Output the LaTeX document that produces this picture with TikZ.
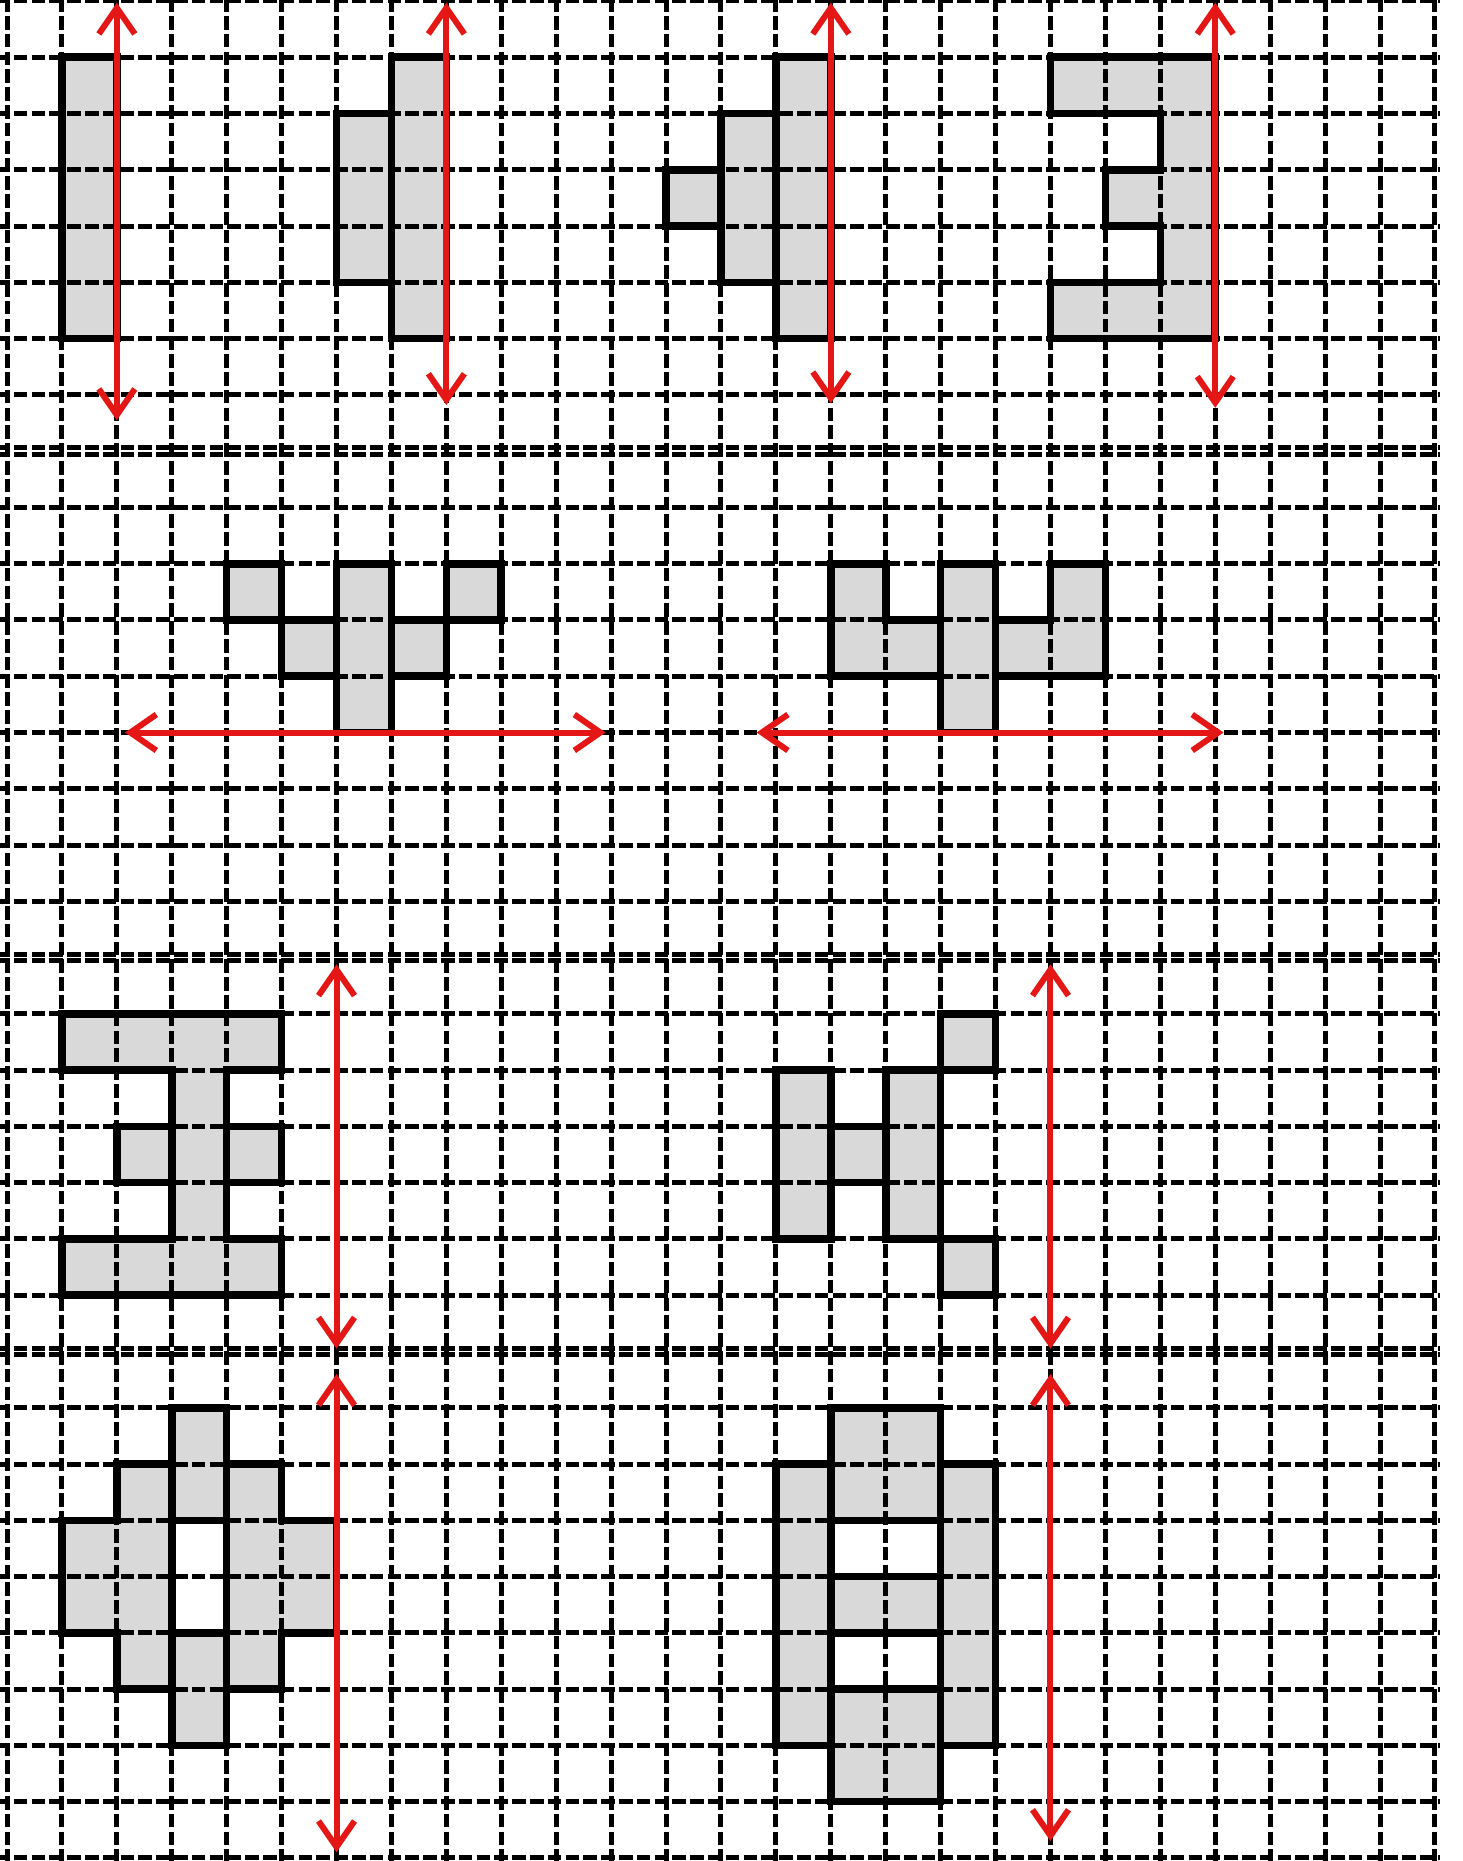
\documentclass[tikz,border=0pt]{standalone}
\usetikzlibrary{arrows.meta}
\definecolor{cellgrey}{RGB}{217,217,217}
\definecolor{axisred}{RGB}{228,22,22}
\tikzset{
  gridline/.style={line width=2.5pt, dash pattern=on 6.8pt off 2.1pt, black},
  outline/.style={line width=3.8pt, line join=miter, black},
  axis/.style={draw=axisred, line width=3pt,
    {Straight Barb[length=13pt,width=18pt]}-{Straight Barb[length=13pt,width=18pt]}},
}
\begin{document}
\begin{tikzpicture}
\useasboundingbox (0,0) rectangle (731pt,-930.5pt);
\fill[white] (0,0) rectangle (731pt,-930.5pt);
\begin{scope}[shift={(3.5pt,-0.5pt)}, x=27.46pt, y=-28.135pt]
  % ---------- grey fills ----------
  \fill[cellgrey] (1,1) rectangle (2,6);
  \fill[cellgrey] (7,1)--(8,1)--(8,6)--(7,6)--(7,5)--(6,5)--(6,2)--(7,2)--cycle;
  \fill[cellgrey] (14,1)--(15,1)--(15,6)--(14,6)--(14,5)--(13,5)--(13,4)--(12,4)--(12,3)--(13,3)--(13,2)--(14,2)--cycle;
  \fill[cellgrey] (19,1)--(22,1)--(22,6)--(19,6)--(19,5)--(21,5)--(21,4)--(20,4)--(20,3)--(21,3)--(21,2)--(19,2)--cycle;
  \fill[cellgrey] (4,10)--(5,10)--(5,11)--(6,11)--(6,10)--(7,10)--(7,11)--(8,11)--(8,10)--(9,10)--(9,11)--(8,11)--(8,12)--(7,12)--(7,13)--(6,13)--(6,12)--(5,12)--(5,11)--(4,11)--cycle;
  \fill[cellgrey] (15,10)--(16,10)--(16,11)--(17,11)--(17,10)--(18,10)--(18,11)--(19,11)--(19,10)--(20,10)--(20,12)--(18,12)--(18,13)--(17,13)--(17,12)--(15,12)--cycle;
  \fill[cellgrey] (1,18)--(5,18)--(5,19)--(4,19)--(4,20)--(5,20)--(5,21)--(4,21)--(4,22)--(5,22)--(5,23)--(1,23)--(1,22)--(3,22)--(3,21)--(2,21)--(2,20)--(3,20)--(3,19)--(1,19)--cycle;
  \fill[cellgrey] (17,18) rectangle (18,19);
  \fill[cellgrey] (17,22) rectangle (18,23);
  \fill[cellgrey] (14,19)--(15,19)--(15,20)--(16,20)--(16,19)--(17,19)--(17,22)--(16,22)--(16,21)--(15,21)--(15,22)--(14,22)--cycle;
  \fill[cellgrey] (3,25)--(4,25)--(4,26)--(5,26)--(5,27)--(6,27)--(6,29)--(5,29)--(5,30)--(4,30)--(4,31)--(3,31)--(3,30)--(2,30)--(2,29)--(1,29)--(1,27)--(2,27)--(2,26)--(3,26)--cycle;
  \fill[white] (3,27) rectangle (4,29);
  \fill[cellgrey] (15,25)--(17,25)--(17,26)--(18,26)--(18,31)--(17,31)--(17,32)--(15,32)--(15,31)--(14,31)--(14,26)--(15,26)--cycle;
  \fill[white] (15,27) rectangle (17,28);
  \fill[white] (15,29) rectangle (17,30);

  % ---------- dashed grid ----------
  \foreach \c in {0,...,26} \draw[gridline] (\c,-0.05) -- (\c,33.1);
  \foreach \r in {0,...,7,9,10,...,16,18,19,...,23,25,26,...,33}
    \draw[gridline] (-0.2,\r) -- (26.1,\r);
  \foreach \r in {8,17,24} {
    \draw[gridline] (-0.2,\r-0.06) -- (26.1,\r-0.06);
    \draw[gridline] (-0.2,\r+0.06) -- (26.1,\r+0.06);
  }

  % ---------- thick outlines ----------
  \draw[outline] (1,1) rectangle (2,6);
  \draw[outline] (7,1)--(8,1)--(8,6)--(7,6)--(7,5)--(6,5)--(6,2)--(7,2)--cycle;
  \draw[outline] (7,2)--(7,5);
  \draw[outline] (14,1)--(15,1)--(15,6)--(14,6)--(14,5)--(13,5)--(13,4)--(12,4)--(12,3)--(13,3)--(13,2)--(14,2)--cycle;
  \draw[outline] (13,3)--(13,4);
  \draw[outline] (14,2)--(14,5);
  \draw[outline] (19,1)--(22,1)--(22,6)--(19,6)--(19,5)--(21,5)--(21,4)--(20,4)--(20,3)--(21,3)--(21,2)--(19,2)--cycle;
  \draw[outline] (4,10)--(5,10)--(5,11)--(6,11)--(6,10)--(7,10)--(7,11)--(8,11)--(8,10)--(9,10)--(9,11)--(8,11)--(8,12)--(7,12)--(7,13)--(6,13)--(6,12)--(5,12)--(5,11)--(4,11)--cycle;
  \draw[outline] (6,10)--(6,13) (7,10)--(7,13);
  \draw[outline] (15,10)--(16,10)--(16,11)--(17,11)--(17,10)--(18,10)--(18,11)--(19,11)--(19,10)--(20,10)--(20,12)--(18,12)--(18,13)--(17,13)--(17,12)--(15,12)--cycle;
  \draw[outline] (17,10)--(17,13) (18,10)--(18,13);
  \draw[outline] (1,18)--(5,18)--(5,19)--(4,19)--(4,20)--(5,20)--(5,21)--(4,21)--(4,22)--(5,22)--(5,23)--(1,23)--(1,22)--(3,22)--(3,21)--(2,21)--(2,20)--(3,20)--(3,19)--(1,19)--cycle;
  \draw[outline] (3,19)--(3,22) (4,19)--(4,22);
  \draw[outline] (17,18) rectangle (18,19);
  \draw[outline] (17,22) rectangle (18,23);
  \draw[outline] (14,19)--(15,19)--(15,20)--(16,20)--(16,19)--(17,19)--(17,22)--(16,22)--(16,21)--(15,21)--(15,22)--(14,22)--cycle;
  \draw[outline] (15,19)--(15,22) (16,19)--(16,22);
  \draw[outline] (3,25)--(4,25)--(4,26)--(5,26)--(5,27)--(6,27)--(6,29)--(5,29)--(5,30)--(4,30)--(4,31)--(3,31)--(3,30)--(2,30)--(2,29)--(1,29)--(1,27)--(2,27)--(2,26)--(3,26)--cycle;
  \draw[outline] (3,27) rectangle (4,29);
  \draw[outline] (3,25)--(3,31) (4,25)--(4,31);
  \draw[outline] (15,25)--(17,25)--(17,26)--(18,26)--(18,31)--(17,31)--(17,32)--(15,32)--(15,31)--(14,31)--(14,26)--(15,26)--cycle;
  \draw[outline] (15,27) rectangle (17,28);
  \draw[outline] (15,29) rectangle (17,30);
  \draw[outline] (15,25)--(15,32) (17,25)--(17,32);

  % ---------- red symmetry axes ----------
  \coordinate (a1s) at (2,0.03);   \coordinate (a1e) at (2,7.45);
  \coordinate (a2s) at (8,0.03);   \coordinate (a2e) at (8,7.18);
  \coordinate (a3s) at (15,0.03);  \coordinate (a3e) at (15,7.15);
  \coordinate (a4s) at (22,0.03);  \coordinate (a4e) at (22,7.23);
  \coordinate (a5s) at (2.15,13);  \coordinate (a5e) at (10.9,13);
  \coordinate (a6s) at (13.65,13); \coordinate (a6e) at (22.15,13);
  \coordinate (a7s) at (6,17.12);  \coordinate (a7e) at (6,23.95);
  \coordinate (a8s) at (19,17.12); \coordinate (a8e) at (19,23.95);
  \coordinate (a9s) at (6,24.4);   \coordinate (a9e) at (6,32.9);
  \coordinate (a10s) at (19,24.4); \coordinate (a10e) at (19,32.7);
  \foreach \i in {1,...,10} \draw[axis] (a\i s) -- (a\i e);
\end{scope}
\end{tikzpicture}
\end{document}
